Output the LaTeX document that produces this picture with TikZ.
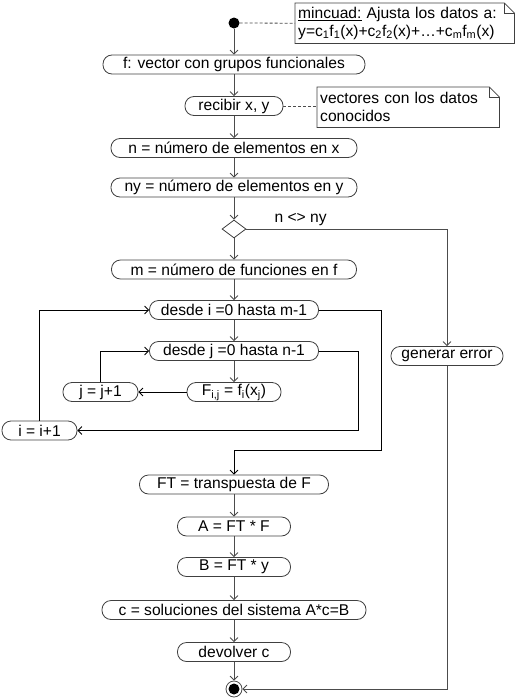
\documentclass[tikz,border=0pt]{standalone}
\usepackage{fontspec}
\setmainfont{Liberation Sans}
\usetikzlibrary{shapes.geometric,arrows.meta}

\tikzset{
    accion/.style={draw=black!75, line width=0.8pt, rounded corners=9pt,
        minimum height=19pt, inner sep=0pt},
    decision/.style={draw=black!75, line width=0.8pt, diamond, inner sep=0pt,
        minimum width=24pt, minimum height=18pt},
    nota/.style={align=left, inner sep=3pt, minimum height=40pt, anchor=north west},
    flujo/.style={draw=black!70, line width=0.8pt, -{Straight Barb[length=4pt,width=8pt]}},
    lazo/.style={draw=black, line width=0.8pt, -{Straight Barb[length=4pt,width=8pt]}},
    enlace/.style={draw=black!70, line width=0.8pt, dashed, dash pattern=on 3pt off 2pt},
}

\begin{document}
\begin{tikzpicture}[x=1pt, y=-1pt, font=\fontsize{15.6}{18}\selectfont]
        \useasboundingbox (0,0) rectangle (517,699);
        \draw
            (234, 23) node[circle, fill=black, minimum size=11pt, inner sep=0pt] (ini){}
            (295, 3) node[nota, text width=213pt] (nota1){\underline{mincuad:} Ajusta los datos a:\\
                y=c\textsubscript{1}f\textsubscript{1}(x)+c\textsubscript{2}f\textsubscript{2}(x)+…+c\textsubscript{m}f\textsubscript{m}(x)}
            (317, 87) node[nota, text width=176pt] (nota2){vectores con los datos\\conocidos}
            (234, 64.5) node[accion, minimum width=262pt] (f){f: vector con grupos funcionales}
            (234, 106) node[accion, minimum width=98pt] (recibir){recibir x, y}
            (234, 148) node[accion, minimum width=246pt] (n){n = número de elementos en x}
            (234, 187.5) node[accion, minimum width=246pt] (ny){ny = número de elementos en y}
            (234, 229) node[decision] (dec){}
            (234, 269.5) node[accion, minimum width=245pt] (m){m = número de funciones en f}
            (234, 310) node[accion, minimum width=169pt] (di){desde i =0 hasta m-1}
            (234, 351) node[accion, minimum width=169pt] (dj){desde j =0 hasta n-1}
            (234, 392) node[accion, minimum width=94pt] (F){F\textsubscript{i,j} = f\textsubscript{i}(x\textsubscript{j})}
            (100.5, 392) node[accion, minimum width=75pt] (jmas){j = j+1}
            (39.5, 430.5) node[accion, minimum width=75pt] (imas){i = i+1}
            (447, 356) node[accion, minimum width=112pt] (error){generar error}
            (234, 484.5) node[accion, minimum width=189pt] (FT){FT = transpuesta de F}
            (234, 526.5) node[accion, minimum width=113pt] (A){A = FT * F}
            (234, 567) node[accion, minimum width=113pt] (B){B = FT * y}
            (234, 610) node[accion, minimum width=264pt] (c){c = soluciones del sistema A*c=B}
            (234, 652) node[accion, minimum width=113pt] (dev){devolver c}
            (234, 689) node[circle, draw=black!70, line width=0.8pt, minimum size=16pt, inner sep=0pt,
                path picture={\fill (path picture bounding box.center) circle (5.5pt);}] (fin){};
        % notas
        \foreach \k in {nota1, nota2} {
            \draw[black!75, line width=0.8pt] (\k.north west) -- ([xshift=-10pt]\k.north east)
                -- ([yshift=-10pt]\k.north east) -- (\k.south east) -- (\k.south west) -- cycle;
            \draw[black!75, line width=0.8pt] ([xshift=-10pt]\k.north east) |- ([yshift=-10pt]\k.north east);
        }
        \draw[enlace] (ini) -- (nota1.west);
        \draw[enlace] (recibir.east) -- (recibir.east -| nota2.west);
        % flujo principal
        \draw[flujo] (ini) to (f);
        \draw[flujo] (f) to (recibir);
        \draw[flujo] (recibir) to (n);
        \draw[flujo] (n) to (ny);
        \draw[flujo] (ny) to (dec);
        \draw[flujo] (dec) to (m);
        \draw[flujo] (dec.east) -- node[above, pos=0.27] {n <> ny} (dec.east -| error) -- (error.north);
        \draw[flujo] (m) to (di);
        \draw[flujo] (di) to (dj);
        \draw[flujo] (dj) to (F);
        \draw[lazo] (F) to (jmas);
        \draw[lazo] (jmas.north) |- (dj.west);
        \draw[lazo] (dj.east) -- (358, 351) -- (358, 430.5) -- (imas.east);
        \draw[lazo] (imas.north) |- (di.west);
        \draw[lazo] (di.east) -- (381, 310) -- (381, 450) -- (234, 450) -- (FT.north);
        \draw[flujo] (FT) to (A);
        \draw[flujo] (A) to (B);
        \draw[flujo] (B) to (c);
        \draw[flujo] (c) to (dev);
        \draw[flujo] (dev) to (fin);
        \draw[flujo] (error.south) |- (fin.east);
        \end{tikzpicture}
\end{document}
